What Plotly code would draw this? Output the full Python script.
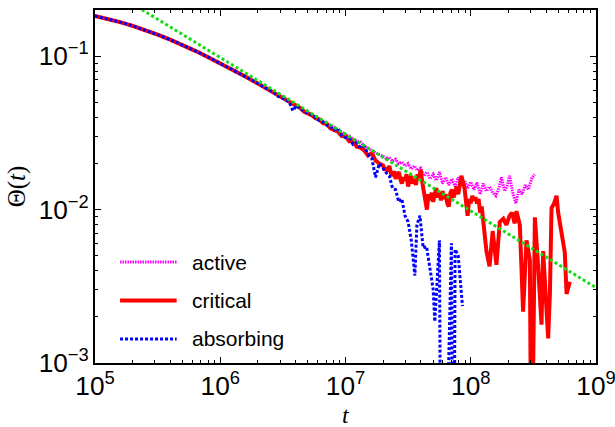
import plotly.graph_objects as go

# ---------------- data (log10 t, log10 Theta) ----------------
shared_log_t = [5.0, 5.1, 5.2, 5.3, 5.4, 5.5, 5.6, 5.7, 5.8, 5.9, 6.0, 6.1, 6.2, 6.3, 6.4]
shared_log_theta = [-0.738, -0.756, -0.778, -0.802, -0.829, -0.859, -0.892, -0.927,
                    -0.965, -1.005, -1.046, -1.089, -1.133, -1.178, -1.225]

mid_log_t = [6.43, 6.46, 6.49, 6.52, 6.55, 6.58, 6.61, 6.64, 6.67, 6.70,
             6.73, 6.76, 6.79, 6.82, 6.85, 6.88, 6.91, 6.94, 6.97, 7.00,
             7.03, 7.06, 7.09, 7.12, 7.15, 7.18, 7.21, 7.24, 7.27, 7.30]

# active
active_mid = [-1.240, -1.258, -1.270, -1.283, -1.296, -1.310, -1.325, -1.340, -1.352, -1.366,
              -1.380, -1.395, -1.408, -1.425, -1.437, -1.455, -1.462, -1.483, -1.495, -1.512,
              -1.520, -1.540, -1.552, -1.560, -1.585, -1.598, -1.615, -1.630, -1.640, -1.652]
active_tail_log_t = [7.325, 7.35, 7.375, 7.40, 7.425, 7.45, 7.475, 7.50, 7.525, 7.55,
                     7.575, 7.60, 7.625, 7.65, 7.675, 7.70, 7.725, 7.75, 7.775, 7.80,
                     7.825, 7.85, 7.875, 7.90, 7.925, 7.95, 7.975, 8.00, 8.025, 8.05,
                     8.075, 8.10, 8.125, 8.15, 8.175, 8.20, 8.225, 8.245, 8.27, 8.29,
                     8.31, 8.335, 8.36, 8.385, 8.41, 8.435, 8.46, 8.485, 8.51]
active_tail = [-1.668, -1.660, -1.685, -1.672, -1.700, -1.690, -1.715, -1.700, -1.735, -1.715,
               -1.745, -1.730, -1.780, -1.755, -1.800, -1.770, -1.810, -1.755, -1.830, -1.790,
               -1.840, -1.800, -1.850, -1.790, -1.830, -1.810, -1.860, -1.820, -1.870, -1.825,
               -1.900, -1.830, -1.880, -1.850, -1.890, -1.910, -1.860, -1.790, -1.880, -1.850,
               -1.780, -1.890, -1.960, -1.870, -1.900, -1.840, -1.870, -1.800, -1.770]

# critical
critical_mid = [-1.242, -1.255, -1.274, -1.281, -1.300, -1.312, -1.330, -1.338, -1.362, -1.371,
                -1.384, -1.405, -1.412, -1.436, -1.440, -1.470, -1.478, -1.492, -1.520, -1.522,
                -1.555, -1.548, -1.590, -1.596, -1.615, -1.648, -1.632, -1.680, -1.700, -1.712]
critical_tail_log_t = [7.3125, 7.325, 7.3375, 7.35, 7.3625, 7.375, 7.3875, 7.40, 7.4125, 7.425,
                       7.4375, 7.45, 7.4625, 7.475, 7.4875, 7.50, 7.5125, 7.525, 7.5375, 7.55,
                       7.5625, 7.575, 7.5875, 7.60, 7.6125, 7.625, 7.6375, 7.65, 7.6625, 7.675,
                       7.6875, 7.70, 7.7125, 7.725, 7.7375, 7.75, 7.7625, 7.775, 7.7875, 7.80,
                       7.8125, 7.825, 7.8375, 7.85, 7.8625, 7.875, 7.8875, 7.90, 7.9125, 7.925,
                       7.9375, 7.95, 7.9625, 7.975, 7.9875, 8.00, 8.0125, 8.025, 8.0375, 8.05,
                       8.0625, 8.075, 8.0875, 8.10,
                       8.125, 8.15, 8.175, 8.205, 8.232, 8.26, 8.285, 8.31,
                       8.33, 8.35, 8.365, 8.392, 8.418, 8.445, 8.472, 8.485, 8.512, 8.538,
                       8.565, 8.578, 8.618, 8.632, 8.645, 8.665, 8.685, 8.698, 8.725, 8.751,
                       8.765, 8.791]
critical_tail = [-1.745, -1.725, -1.75, -1.715, -1.76, -1.78, -1.75, -1.80, -1.77, -1.755,
                 -1.80, -1.83, -1.79, -1.81, -1.77, -1.85, -1.80, -1.78, -1.83, -1.80,
                 -1.84, -1.77, -1.80, -1.74, -1.82, -1.87, -1.93, -2.00, -1.90, -1.94,
                 -1.89, -1.95, -1.90, -1.86, -1.92, -1.89, -1.94, -1.88, -1.93, -1.90,
                 -1.96, -1.98, -1.89, -1.87, -1.92, -1.88, -1.85, -1.90, -1.83, -1.78,
                 -1.82, -1.86, -1.95, -2.04, -1.93, -1.96, -1.91, -1.94, -1.92, -1.96,
                 -1.93, -2.02, -1.98, -2.10,
                 -2.27, -2.37, -2.14, -2.36, -2.08, -2.06, -2.10, -2.04,
                 -2.02, -2.09, -2.01, -2.10, -2.665, -2.20, -2.33, -4.0, -2.05, -2.37,
                 -2.75, -2.27, -2.84, -2.55, -1.99, -1.96, -1.91, -2.02, -2.14, -2.28,
                 -2.55, -2.47]

# absorbing
absorbing_mid = [-1.240, -1.262, -1.268, -1.285, -1.298, -1.355, -1.322, -1.345, -1.355, -1.378,
                 -1.380, -1.402, -1.420, -1.428, -1.450, -1.462, -1.480, -1.470, -1.518, -1.530,
                 -1.535, -1.575, -1.565, -1.598, -1.590, -1.640, -1.665, -1.790, -1.700, -1.730]
absorbing_tail_log_t = [7.325, 7.35, 7.375, 7.40, 7.425, 7.45, 7.475, 7.50, 7.525, 7.554,
                        7.57, 7.594, 7.62, 7.647, 7.674, 7.70, 7.713, 7.735, 7.75, 7.767,
                        7.846, 7.862, 7.875, 7.90, 7.915, 7.934]
absorbing_tail = [-1.76, -1.78, -1.86, -1.87, -1.95, -1.93, -2.04, -2.08, -2.20, -2.43,
                  -2.10, -2.04, -2.25, -2.24, -2.39, -2.52, -2.73, -2.40, -2.20, -5.0,
                  -2.22, -5.0, -2.26, -2.30, -2.45, -2.63]

# power-law guide line (end points)
fit_t = [1e5, 1e9]
fit_theta = [0.3097, 0.0031]

legend_labels = ["active", "critical", "absorbing"]
x_title = "<i>t</i>"
y_title = "Θ(<i>t</i>)"


def series(mid_vals, tail_t, tail_vals):
    lt = shared_log_t + mid_log_t + tail_t
    lv = shared_log_theta + mid_vals + tail_vals
    return [10 ** v for v in lt], [10 ** v for v in lv]


MAGENTA = "#ff00ff"
RED = "#ff0000"
BLUE = "#0000ff"
GREEN = "#11dd11"

styles = [
    dict(color=MAGENTA, width=3, dash="1.5px,1px"),
    dict(color=RED, width=4, dash="solid"),
    dict(color=BLUE, width=3, dash="3px,2px"),
]

fig = go.Figure()
data_sets = [
    series(active_mid, active_tail_log_t, active_tail),
    series(critical_mid, critical_tail_log_t, critical_tail),
    series(absorbing_mid, absorbing_tail_log_t, absorbing_tail),
]
for (x, y), st, name in zip(data_sets, styles, legend_labels):
    fig.add_trace(go.Scatter(x=x, y=y, mode="lines", name=name, line=st, showlegend=False))

fig.add_trace(go.Scatter(x=fit_t, y=fit_theta, mode="lines", showlegend=False,
                         line=dict(color=GREEN, width=3, dash="3px,2.5px")))

# hand-made legend (keeps the long line samples of the original)
rows_y = [0.286, 0.177, 0.068]
for st, label, yy in zip(styles, legend_labels, rows_y):
    fig.add_shape(type="line", xref="paper", yref="paper", x0=0.050, x1=0.163, y0=yy, y1=yy,
                  line=dict(color=st["color"], width=st["width"], dash=st["dash"]))
    fig.add_annotation(xref="paper", yref="paper", x=0.19, y=yy, text=label, showarrow=False,
                       xanchor="left", yanchor="middle",
                       font=dict(family="Liberation Sans, Arial, sans-serif", size=21, color="black"))

# axis titles
fig.add_annotation(xref="paper", yref="paper", x=0.5, y=-0.104, text=x_title, showarrow=False,
                   xanchor="center", yanchor="top",
                   font=dict(family="Liberation Serif, serif", size=24, color="black"))
fig.add_annotation(xref="paper", yref="paper", x=-0.156, y=0.5, text=y_title, showarrow=False,
                   xanchor="center", yanchor="middle", textangle=-90,
                   font=dict(family="Liberation Serif, serif", size=25, color="black"))

axis_common = dict(
    type="log", dtick=1, exponentformat="power", showexponent="all",
    ticks="inside", ticklen=6, tickwidth=1, tickcolor="black",
    showline=True, linecolor="black", linewidth=2, mirror="allticks",
    showgrid=False, zeroline=False, automargin=False, ticklabeloverflow="allow",
    tickfont=dict(family="Liberation Sans, Arial, sans-serif", size=21, color="black"),
    minor=dict(ticks="inside", ticklen=3, tickcolor="black", dtick="D1", showgrid=False),
)

fig.update_xaxes(range=[5, 9], **axis_common)
fig.update_yaxes(range=[-3, -0.699], **axis_common)

fig.update_layout(width=615, height=427, margin=dict(l=95, r=19, t=10, b=64),
                  plot_bgcolor="white", paper_bgcolor="white")

fig.write_html("out.html")
